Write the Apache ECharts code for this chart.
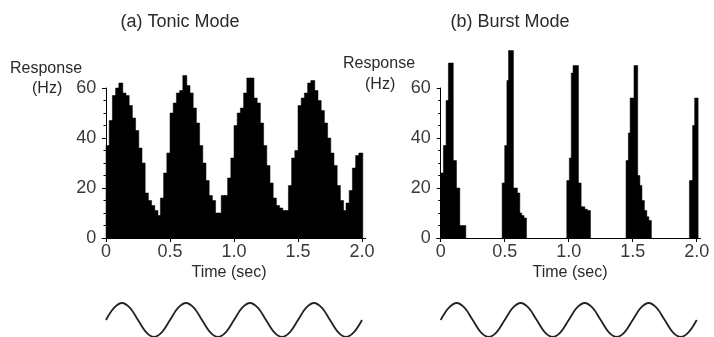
<!DOCTYPE html>
<html><head><meta charset="utf-8">
<script src="https://cdn.jsdelivr.net/npm/echarts@6/dist/echarts.min.js"></script>
<style>html,body{margin:0;padding:0;background:#fff}#c{width:714px;height:337px}</style>
</head><body><div id="c"></div>
<script>
// ---- Data ----
const panelTitles = ['(a) Tonic Mode', '(b) Burst Mode'];
const xTickValues = [0, 0.5, 1.0, 1.5, 2.0];
const yTickInterval = 20;

// (a) Tonic mode PSTH: 80 bins of 25 ms, response in Hz
const tonicBinWidth = 0.025;
const tonicRates = [
  37, 47, 57, 60, 62, 58, 57, 53, 48, 43, 36, 30, 18, 15, 13, 11, 9, 16, 26, 34,
  50, 54, 58, 59, 65, 61, 58, 52, 46, 37, 30, 23, 17, 15, 10, 10, 17, 17, 24, 32,
  45, 50, 52, 58, 64, 64, 56, 54, 46, 37, 29, 22, 16, 13, 12, 11, 11, 21, 32, 35,
  53, 56, 58, 62, 63, 59, 55, 51, 46, 40, 34, 29, 21, 15, 11, 14, 19, 28, 33, 34
];

// (b) Burst mode PSTH: step edges (sec) and the rate (Hz) from each edge on
const burstEdgeTimes = [
  0, 0.021, 0.042, 0.06, 0.092, 0.117, 0.143, 0.19,
  0.48, 0.50, 0.517, 0.53, 0.562, 0.593, 0.612, 0.627, 0.645, 0.664,
  0.985, 1.005, 1.02, 1.034, 1.07, 1.091, 1.12, 1.14, 1.164,
  1.448, 1.466, 1.48, 1.51, 1.533, 1.55, 1.566, 1.585, 1.604, 1.62, 1.64,
  1.943, 1.968, 1.984, 2.005
];
const burstEdgeRates = [
  26, 37, 55, 70, 31, 20, 5, 0,
  22, 37, 63, 75, 20, 18, 10, 9, 8, 0,
  23, 32, 66, 69, 22, 12.5, 11.5, 11, 0,
  31, 42, 56, 69, 25, 21, 15, 11, 8.5, 7, 0,
  23, 45, 56, 0
];

// Stimulus trace under each panel: samples every 62.5 ms (normalised)
const stimulusStep = 0.0625;
const stimulusValues = [
  0, 0.71, 1, 0.71, 0, -0.71, -1, -0.71,
  0, 0.71, 1, 0.71, 0, -0.71, -1, -0.71,
  0, 0.71, 1, 0.71, 0, -0.71, -1, -0.71,
  0, 0.71, 1, 0.71, 0, -0.71, -1, -0.71,
  0
];

// ---- Build series data: [binStart, binEnd, rate] ----
const tonicData = tonicRates.map((v, i) => [i * tonicBinWidth, (i + 1) * tonicBinWidth, v]);
const burstData = [];
for (let i = 0; i < burstEdgeTimes.length - 1; i++) {
  if (burstEdgeRates[i] > 0) burstData.push([burstEdgeTimes[i], burstEdgeTimes[i + 1], burstEdgeRates[i]]);
}
const stimulusData = stimulusValues.map((v, i) => [i * stimulusStep, v]);

const FONT = '"Liberation Sans", Arial, Helvetica, sans-serif';
const TXT = '#2a2a2a';
const TICKTXT = '#3a3a3a';
const pxPerSec = 128;
const xMin = -0.03, xMax = 2.03;
const gridW = (xMax - xMin) * pxPerSec;
const zeroX = [106, 440.7];

function renderBin(params, api) {
  const p0 = api.coord([api.value(0), api.value(2)]);
  const p1 = api.coord([api.value(1), 0]);
  return {
    type: 'rect',
    shape: {x: p0[0], y: p0[1], width: p1[0] - p0[0] + 0.8, height: p1[1] - p0[1]},
    style: {fill: '#000', stroke: '#000', lineWidth: 0.5}
  };
}

const chart = echarts.init(document.getElementById('c'), null, {renderer: 'canvas'});

const grids = [], xAxes = [], yAxes = [], series = [];
zeroX.forEach((zx, p) => {
  const left = zx + xMin * pxPerSec;
  grids.push({left: left, width: gridW, top: 88, height: 150});
  grids.push({left: left, width: gridW, top: 303, height: 34});
  xAxes.push({
    type: 'value', gridIndex: 2 * p, min: xMin, max: xMax,
    axisLine: {show: true, lineStyle: {color: '#000', width: 1}},
    axisTick: {show: true, customValues: xTickValues, length: 4, lineStyle: {color: '#000'}},
    axisLabel: {customValues: xTickValues, fontSize: 18, fontFamily: FONT, color: TICKTXT, margin: 5,
      formatter: v => (v === 0 ? '0' : v.toFixed(1))},
    splitLine: {show: false}
  });
  xAxes.push({type: 'value', gridIndex: 2 * p + 1, min: xMin, max: xMax, show: false});
  yAxes.push({
    type: 'value', gridIndex: 2 * p, min: 0, max: 60, interval: yTickInterval,
    axisLine: {show: true, lineStyle: {color: '#000', width: 1}},
    axisTick: {show: true, length: 4, lineStyle: {color: '#000'}},
    minorTick: {show: true, splitNumber: 4, length: 2.5, lineStyle: {color: '#000'}},
    axisLabel: {fontSize: 18, fontFamily: FONT, color: TICKTXT, margin: 6},
    splitLine: {show: false}
  });
  yAxes.push({type: 'value', gridIndex: 2 * p + 1, min: -1, max: 1, show: false});
});

series.push({
  type: 'custom', xAxisIndex: 0, yAxisIndex: 0, data: tonicData, renderItem: renderBin,
  encode: {x: [0, 1], y: 2}, clip: false, silent: true
});
series.push({
  type: 'line', xAxisIndex: 1, yAxisIndex: 1, data: stimulusData, smooth: 0.35,
  symbol: 'none', clip: false, lineStyle: {color: '#222', width: 1.8}, silent: true
});
series.push({
  type: 'custom', xAxisIndex: 2, yAxisIndex: 2, data: burstData, renderItem: renderBin,
  encode: {x: [0, 1], y: 2}, clip: false, silent: true
});
series.push({
  type: 'line', xAxisIndex: 3, yAxisIndex: 3, data: stimulusData, smooth: 0.35,
  symbol: 'none', clip: false, lineStyle: {color: '#222', width: 1.8}, silent: true
});

function txt(text, x, y, size, align) {
  return {type: 'text', x: x, y: y, silent: true,
    style: {text: text, font: size + 'px ' + FONT, fill: TXT, textAlign: align || 'left', textVerticalAlign: 'middle'}};
}

chart.setOption({
  animation: false,
  backgroundColor: '#fff',
  grid: grids, xAxis: xAxes, yAxis: yAxes, series: series,
  graphic: [
    txt(panelTitles[0], 180, 22, 18, 'center'),
    txt(panelTitles[1], 510, 22, 18, 'center'),
    txt('Response', 10, 69, 16),
    txt('(Hz)', 32, 89, 16),
    txt('Response', 343, 64, 16),
    txt('(Hz)', 365, 85, 16),
    txt('Time (sec)', 229, 273, 16, 'center'),
    txt('Time (sec)', 570, 273, 16, 'center')
  ]
});
</script></body></html>
